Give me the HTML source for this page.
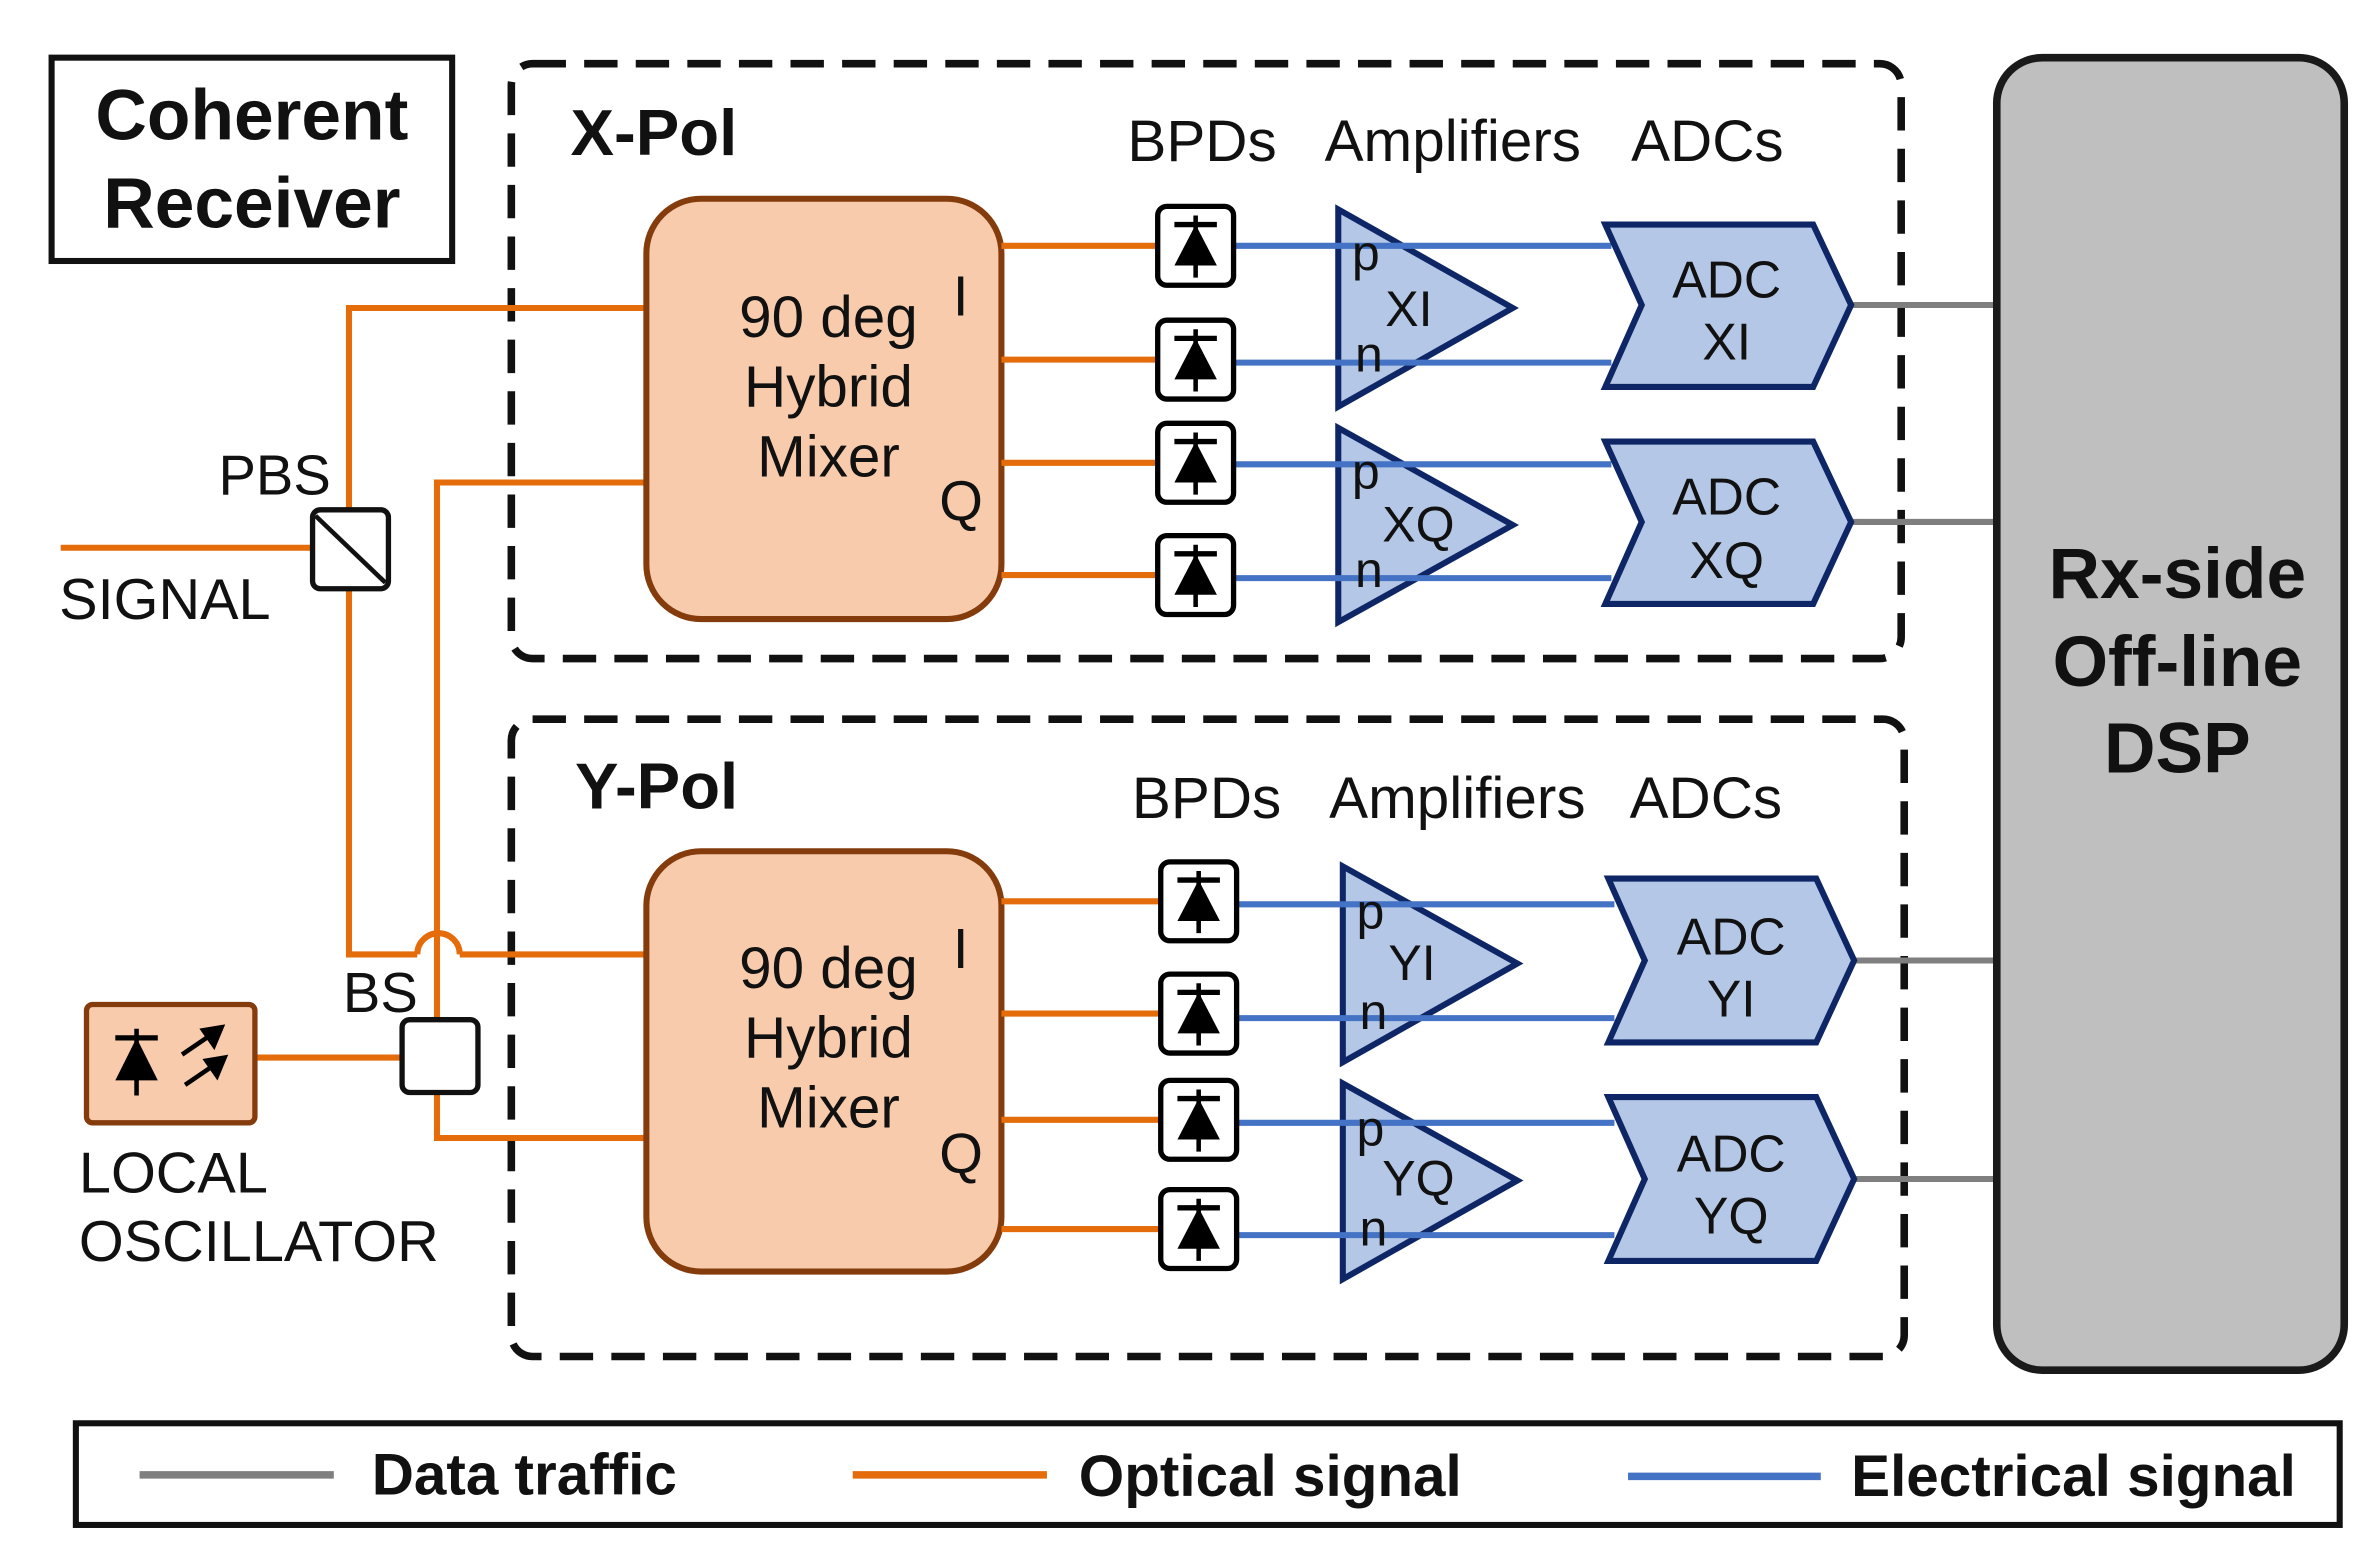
<!DOCTYPE html>
<html><head><meta charset="utf-8"><style>
html,body{margin:0;padding:0;background:#fff;}
svg{display:block;}
text{font-family:"Liberation Sans",Arial,sans-serif;fill:#111;}
</style></head><body>
<svg width="2367" height="1565" viewBox="0 0 1560 1031.4" preserveAspectRatio="none" xmlns="http://www.w3.org/2000/svg">
<defs>
<g id="bpd">
<rect x="-25" y="-26" width="50" height="52" rx="6" fill="#fff" stroke="#000" stroke-width="3.5"/>
<line x1="0" y1="-20" x2="0" y2="21" stroke="#000" stroke-width="3"/>
<line x1="-14" y1="-14" x2="14" y2="-14" stroke="#000" stroke-width="3.5"/>
<polygon points="0,-14 -14,13 14,13" fill="#000"/>
</g>
</defs>
<!-- Title box -->
<rect x="34" y="38" width="264" height="134" fill="#fff" stroke="#111" stroke-width="4"/>
<text x="166" y="92" font-size="47" font-weight="bold" text-anchor="middle">Coherent</text>
<text x="166" y="150" font-size="47" font-weight="bold" text-anchor="middle">Receiver</text>

<!-- Dashed boxes -->
<rect x="337" y="42" width="916" height="392" rx="14" fill="none" stroke="#111" stroke-width="5" stroke-dasharray="22 12"/>
<rect x="337" y="474" width="918" height="420" rx="14" fill="none" stroke="#111" stroke-width="5" stroke-dasharray="22 12"/>
<text x="376" y="102" font-size="43" font-weight="bold">X-Pol</text>
<text x="379" y="533" font-size="43" font-weight="bold">Y-Pol</text>
<g font-size="38.5">
<text x="743" y="106">BPDs</text>
<text x="873" y="106">Amplifiers</text>
<text x="1075" y="106">ADCs</text>
<text x="746" y="539">BPDs</text>
<text x="876" y="539">Amplifiers</text>
<text x="1074" y="539">ADCs</text>
</g>

<!-- Optical feeds -->
<g stroke="#e46c0a" stroke-width="4" fill="none">
<line x1="40" y1="361" x2="206" y2="361"/>
<polyline points="230,336 230,203 426,203"/>
<polyline points="230,388 230,629 275,629"/>
<path d="M275,629 A14,14 0 0 1 303,629"/>
<line x1="303" y1="629" x2="426" y2="629"/>
<polyline points="288,672 288,318 426,318"/>
<polyline points="288,720 288,750 426,750"/>
<line x1="168" y1="697" x2="265" y2="697"/>
</g>
<!-- PBS -->
<rect x="206" y="336" width="50" height="52" rx="5" fill="#fff" stroke="#111" stroke-width="3.5"/>
<line x1="208" y1="340" x2="254" y2="384" stroke="#111" stroke-width="3"/>
<text x="144" y="326" font-size="37">PBS</text>
<text x="39" y="408" font-size="38">SIGNAL</text>
<!-- BS -->
<rect x="265" y="672" width="50" height="48" rx="5" fill="#fff" stroke="#111" stroke-width="3.5"/>
<text x="226" y="667" font-size="37">BS</text>
<!-- LO -->
<rect x="57" y="662" width="111" height="78" rx="4" fill="#f8cbad" stroke="#843c0c" stroke-width="3.5"/>
<line x1="90" y1="678" x2="90" y2="722" stroke="#000" stroke-width="3"/>
<line x1="76" y1="684" x2="104" y2="684" stroke="#000" stroke-width="3.5"/>
<polygon points="90,684 76,712 104,712" fill="#000"/>
<g stroke="#000" stroke-width="3" fill="#000">
<line x1="120" y1="695" x2="142" y2="680"/><polygon points="146,677 134,679 141,689"/>
<line x1="122" y1="715" x2="144" y2="700"/><polygon points="148,697 136,699 143,709"/>
</g>
<text x="52" y="786" font-size="38">LOCAL</text>
<text x="52" y="831" font-size="38">OSCILLATOR</text>

<!-- Mixers -->
<rect x="426" y="131" width="234" height="277" rx="36" fill="#f8cbad" stroke="#843c0c" stroke-width="4"/>
<text x="546" y="222" font-size="38.5" text-anchor="middle">90 deg</text>
<text x="546" y="268" font-size="38.5" text-anchor="middle">Hybrid</text>
<text x="546" y="314" font-size="38.5" text-anchor="middle">Mixer</text>
<text x="628" y="208" font-size="37">I</text>
<text x="619" y="343" font-size="37">Q</text>
<rect x="426" y="561" width="234" height="277" rx="36" fill="#f8cbad" stroke="#843c0c" stroke-width="4"/>
<text x="546" y="651" font-size="38.5" text-anchor="middle">90 deg</text>
<text x="546" y="697" font-size="38.5" text-anchor="middle">Hybrid</text>
<text x="546" y="743" font-size="38.5" text-anchor="middle">Mixer</text>
<text x="628" y="638" font-size="37">I</text>
<text x="619" y="773" font-size="37">Q</text>

<!-- Orange outputs -->
<g stroke="#e46c0a" stroke-width="4">
<line x1="660" y1="162" x2="765" y2="162"/><line x1="660" y1="237" x2="765" y2="237"/>
<line x1="660" y1="305" x2="765" y2="305"/><line x1="660" y1="379" x2="765" y2="379"/>
<line x1="660" y1="594" x2="767" y2="594"/><line x1="660" y1="668" x2="767" y2="668"/>
<line x1="660" y1="738" x2="767" y2="738"/><line x1="660" y1="810" x2="767" y2="810"/>
</g>

<!-- Amps -->
<g fill="#b4c7e7" stroke="#0f2666" stroke-width="4">
<polygon points="882,138 882,268 997,203"/>
<polygon points="882,282 882,410 997,346"/>
<polygon points="885,571 885,700 1000,635"/>
<polygon points="885,714 885,843 1000,778"/>
</g>
<!-- Blue lines -->
<g stroke="#4472c4" stroke-width="4">
<line x1="813" y1="162" x2="1062" y2="162"/><line x1="813" y1="239" x2="1062" y2="239"/>
<line x1="813" y1="306" x2="1062" y2="306"/><line x1="813" y1="381" x2="1062" y2="381"/>
<line x1="815" y1="596" x2="1064" y2="596"/><line x1="815" y1="671" x2="1064" y2="671"/>
<line x1="815" y1="740" x2="1064" y2="740"/><line x1="815" y1="814" x2="1064" y2="814"/>
</g>
<g font-size="33">
<text x="891" y="178">p</text><text x="893" y="245">n</text><text x="913" y="215">XI</text>
<text x="891" y="322">p</text><text x="893" y="387">n</text><text x="911" y="357">XQ</text>
<text x="894" y="612">p</text><text x="896" y="678">n</text><text x="915" y="646">YI</text>
<text x="894" y="755">p</text><text x="896" y="821">n</text><text x="911" y="788">YQ</text>
</g>
<!-- BPDs -->
<use href="#bpd" x="788" y="162"/><use href="#bpd" x="788" y="237"/>
<use href="#bpd" x="788" y="305"/><use href="#bpd" x="788" y="379"/>
<use href="#bpd" x="790" y="594"/><use href="#bpd" x="790" y="668"/>
<use href="#bpd" x="790" y="738"/><use href="#bpd" x="790" y="810"/>

<!-- Gray data lines -->
<g stroke="#7f7f7f" stroke-width="4">
<line x1="1220" y1="201" x2="1318" y2="201"/><line x1="1220" y1="344" x2="1318" y2="344"/>
<line x1="1222" y1="633" x2="1318" y2="633"/><line x1="1222" y1="777" x2="1318" y2="777"/>
</g>
<!-- ADCs -->
<g fill="#b4c7e7" stroke="#0f2666" stroke-width="4">
<polygon points="1058,148 1195,148 1220,201 1195,255 1058,255 1082,201"/>
<polygon points="1058,291 1195,291 1220,344 1195,398 1058,398 1082,344"/>
<polygon points="1060,579 1197,579 1222,633 1197,687 1060,687 1084,633"/>
<polygon points="1060,723 1197,723 1222,777 1197,831 1060,831 1084,777"/>
</g>
<g font-size="34" text-anchor="middle">
<text x="1138" y="196">ADC</text><text x="1138" y="237">XI</text>
<text x="1138" y="339">ADC</text><text x="1138" y="381">XQ</text>
<text x="1141" y="629">ADC</text><text x="1141" y="670">YI</text>
<text x="1141" y="772">ADC</text><text x="1141" y="813">YQ</text>
</g>

<!-- DSP -->
<rect x="1316" y="38" width="229" height="865" rx="30" fill="#bfbfbf" stroke="#1a1a1a" stroke-width="5"/>
<g font-size="47" font-weight="bold" text-anchor="middle">
<text x="1435" y="394">Rx-side</text><text x="1435" y="452">Off-line</text><text x="1435" y="509">DSP</text>
</g>

<!-- Legend -->
<rect x="50" y="938" width="1492" height="67" fill="#fff" stroke="#111" stroke-width="4"/>
<line x1="92" y1="972" x2="220" y2="972" stroke="#7f7f7f" stroke-width="5"/>
<line x1="562" y1="972" x2="690" y2="972" stroke="#e46c0a" stroke-width="5"/>
<line x1="1073" y1="973" x2="1200" y2="973" stroke="#4472c4" stroke-width="5"/>
<g font-size="38.5" font-weight="bold">
<text x="245" y="985">Data traffic</text>
<text x="711" y="986">Optical signal</text>
<text x="1220" y="986">Electrical signal</text>
</g>
</svg>
</body></html>
